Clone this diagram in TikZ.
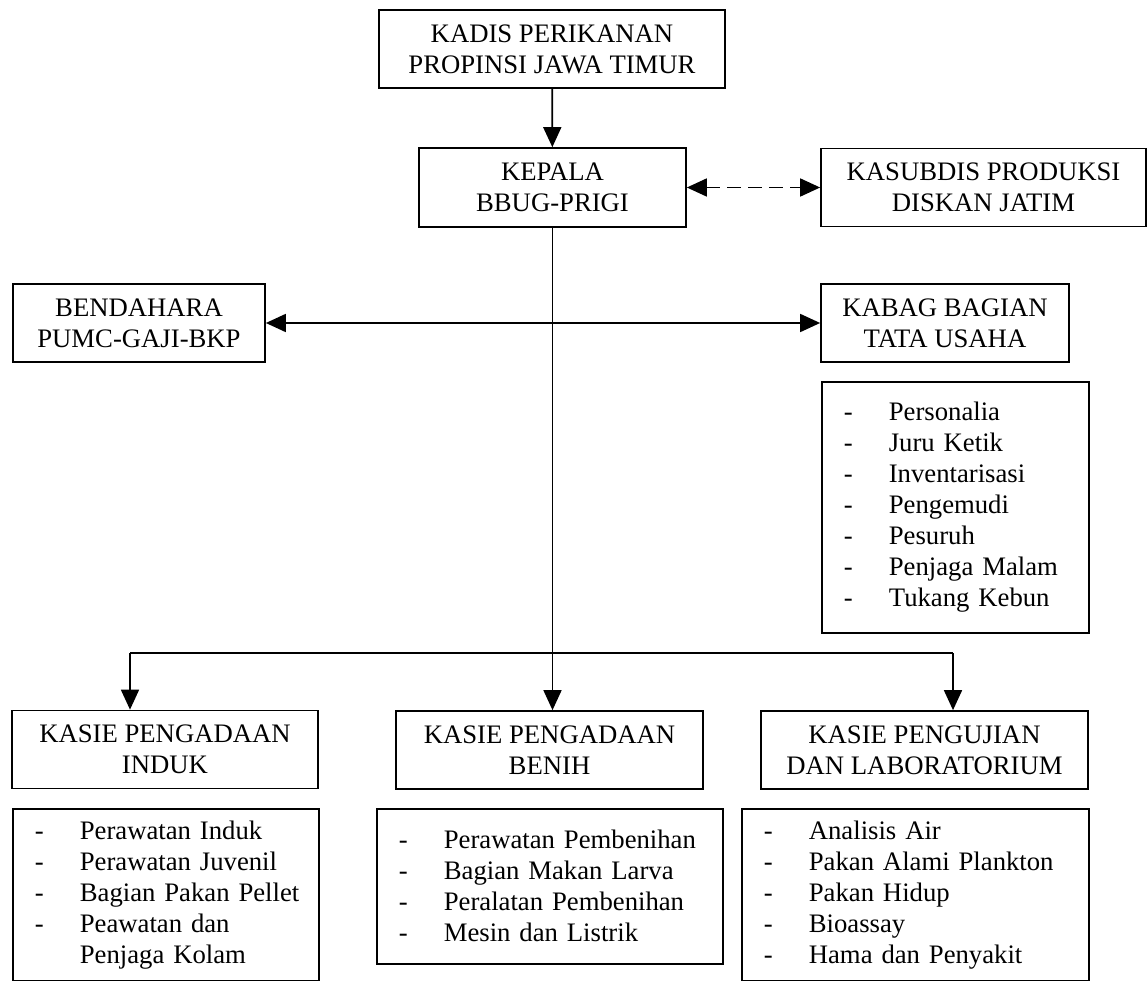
\documentclass[tikz,border=0pt]{standalone}
\usepackage{fontspec}
\setmainfont{Liberation Serif}
\usetikzlibrary{arrows.meta}
\newcommand{\duty}[1]{\mbox{\makebox[45pt][l]{-}#1}}
\newcommand{\dutymore}[1]{\mbox{\makebox[45pt][l]{}#1}}

\begin{document}
\begin{tikzpicture}[x=1pt,y=-1pt,
	font=\fontsize{26.7}{31}\selectfont,
	unit/.style={draw,line width=1.7pt,align=center,inner sep=0pt},
	tasks/.style={draw,line width=1.7pt,align=left,anchor=north west,inner xsep=22pt,inner ysep=0pt},
	>={Triangle[length=20pt,width=18pt]}]
	\useasboundingbox (0,0) rectangle (1148,981);

	\node[unit,minimum width=346pt,minimum height=78pt] (kadis) at (552,49) {KADIS PERIKANAN\\PROPINSI JAWA TIMUR};
	\node[unit,minimum width=267pt,minimum height=79pt] (kepala) at (552.5,187.5) {KEPALA\\BBUG-PRIGI};
	\node[unit,minimum width=325pt,minimum height=78pt] (kasubdis) at (983.5,187.5) {KASUBDIS PRODUKSI\\DISKAN JATIM};
	\node[unit,minimum width=252pt,minimum height=78pt] (bendahara) at (139,323) {BENDAHARA\\PUMC-GAJI-BKP};
	\node[unit,minimum width=248pt,minimum height=78pt] (kabag) at (945,323) {KABAG BAGIAN\\TATA USAHA};
	\node[tasks,text width=223pt,minimum height=251pt] (tu) at (821,381) {\duty{Personalia}\\\duty{Juru Ketik}\\\duty{Inventarisasi}\\\duty{Pengemudi}\\\duty{Pesuruh}\\\duty{Penjaga Malam}\\\duty{Tukang Kebun}};

	\node[unit,minimum width=306pt,minimum height=78pt] (induk) at (165,749.5) {KASIE PENGADAAN\\INDUK};
	\node[unit,minimum width=307pt,minimum height=78pt] (benih) at (549.5,750) {KASIE PENGADAAN\\BENIH};
	\node[unit,minimum width=327pt,minimum height=78pt] (uji) at (924.5,750) {KASIE PENGUJIAN\\DAN LABORATORIUM};

	\node[tasks,text width=262pt,minimum height=172pt] (indukjob) at (12,808) {\duty{Perawatan Induk}\\\duty{Perawatan Juvenil}\\\duty{Bagian Pakan Pellet}\\\duty{Peawatan dan}\\\dutymore{Penjaga Kolam}};
	\node[tasks,text width=302pt,minimum height=155pt] (benihjob) at (376,808) {\duty{Perawatan Pembenihan}\\\duty{Bagian Makan Larva}\\\duty{Peralatan Pembenihan}\\\duty{Mesin dan Listrik}};
	\node[tasks,text width=303pt,minimum height=172pt] (ujijob) at (741,808) {\duty{Analisis Air}\\\duty{Pakan Alami Plankton}\\\duty{Pakan Hidup}\\\duty{Bioassay}\\\duty{Hama dan Penyakit}};

	\coordinate (busl) at (130,653);
	\coordinate (busr) at (953,653);

	\draw[line width=1.7pt] (busl) -- (busr);
	\path[->,line width=1.7pt]
	(kadis) edge (kepala)
	(kepala) edge [<->,dash pattern=on 14pt off 7pt] (kasubdis)
	(bendahara) edge [<->] (kabag)
	(kepala.south) edge (kepala.south |- benih.north)
	(busl) edge (busl |- induk.north)
	(busr) edge (busr |- uji.north);
\end{tikzpicture}
\end{document}
